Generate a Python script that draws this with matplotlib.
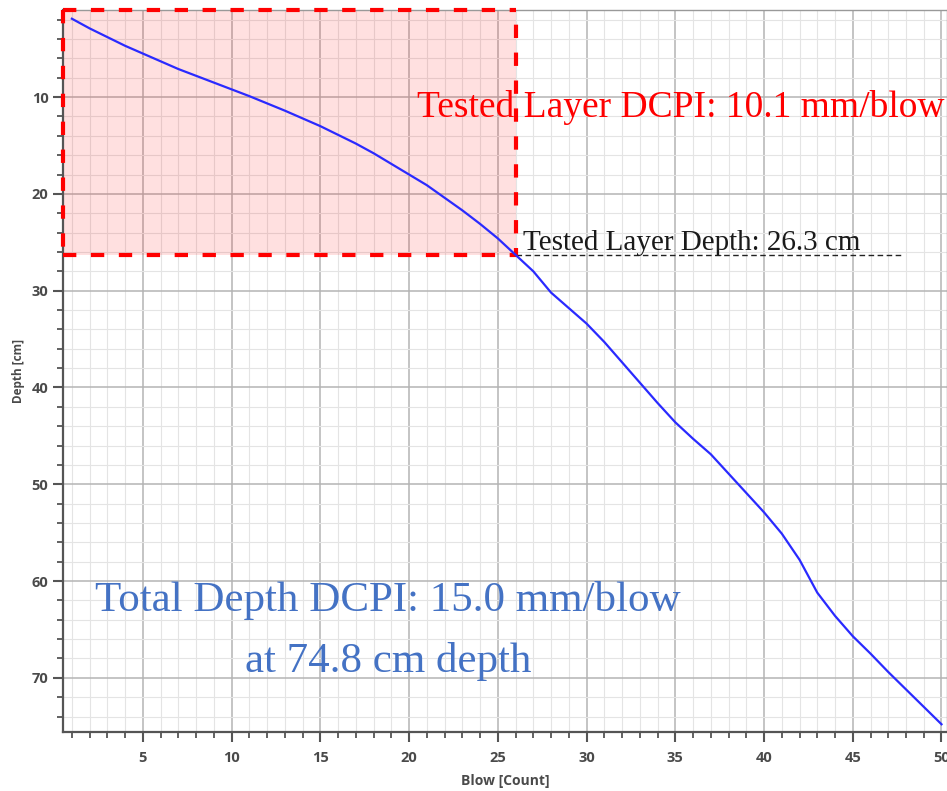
import matplotlib
matplotlib.use("Agg")
import matplotlib.pyplot as plt
from matplotlib.patches import Rectangle
from matplotlib.ticker import MultipleLocator

# ---- data ----
blows = [1, 2, 3, 4, 5, 6, 7, 8, 9, 10,
         11, 12, 13, 14, 15, 16, 17, 18, 19, 20,
         21, 22, 23, 24, 25, 26, 27, 28, 29, 30,
         31, 32, 33, 34, 35, 36, 37, 38, 39, 40,
         41, 42, 43, 44, 45, 46, 47, 48, 49, 50]
depths = [1.9, 2.9, 3.8, 4.7, 5.5, 6.3, 7.1, 7.8, 8.5, 9.2,
          9.9, 10.65, 11.4, 12.2, 13.0, 13.9, 14.8, 15.8, 16.9, 18.0,
          19.1, 20.4, 21.7, 23.1, 24.6, 26.3, 28.0, 30.2, 31.8, 33.4,
          35.3, 37.4, 39.5, 41.6, 43.6, 45.3, 46.9, 48.9, 50.9, 52.9,
          55.1, 57.8, 61.2, 63.6, 65.7, 67.5, 69.4, 71.2, 73.0, 74.8]

tested_blow = 26
tested_depth = 26.3
tested_dcpi = 10.1
total_dcpi = 15.0
total_depth = 74.8

x_ticks = [5, 10, 15, 20, 25, 30, 35, 40, 45, 50]
y_ticks = [10, 20, 30, 40, 50, 60, 70]

W, H = 947, 791
fig = plt.figure(figsize=(W / 100, H / 100), dpi=100)
ax = fig.add_axes([63 / W, 1 - 732 / H, (947 - 63) / W, (732 - 10) / H])

x_min, x_max = 0.5, 50.31
y_top, y_bot = 1.0, 75.6
ax.set_xlim(x_min, x_max)
ax.set_ylim(y_bot, y_top)

# grid
ax.xaxis.set_major_locator(MultipleLocator(5))
ax.xaxis.set_minor_locator(MultipleLocator(1))
ax.yaxis.set_major_locator(MultipleLocator(10))
ax.yaxis.set_minor_locator(MultipleLocator(2))
ax.set_xticks(x_ticks)
ax.set_yticks(y_ticks)
ax.grid(which="major", color="#b4b4b4", lw=1.1, zorder=0)
ax.grid(which="minor", color="#e4e4e4", lw=0.8, zorder=0)
ax.set_axisbelow(True)

# spines & ticks
for s in ["left", "bottom"]:
    ax.spines[s].set_color("#555555")
    ax.spines[s].set_linewidth(1.6)
for s in ["top", "right"]:
    ax.spines[s].set_color("#999999")
    ax.spines[s].set_linewidth(1.0)
ax.tick_params(which="major", length=7, width=1.5, color="#555555",
               labelcolor="#4a4a4a", labelsize=10.5)
ax.tick_params(which="minor", length=4.3, width=1.3, color="#555555")
ax.tick_params(axis="x", which="major", pad=6.5)
ax.tick_params(axis="y", which="major", pad=3.5)
for lab in ax.get_xticklabels() + ax.get_yticklabels():
    lab.set_fontfamily("Open Sans")
    lab.set_fontweight("bold")

ax.set_xlabel("Blow [Count]", fontsize=10, color="#4a4a4a", fontfamily="Open Sans",
              fontweight="bold", labelpad=7)
ax.set_ylabel("Depth [cm]", fontsize=8.5, color="#4a4a4a", fontfamily="Open Sans",
              fontweight="bold", labelpad=5)

# tested layer shaded box
rect_fill = Rectangle((x_min, y_top), tested_blow - x_min, tested_depth - y_top,
                      facecolor=(1, 0, 0, 0.12), edgecolor="none", zorder=1)
ax.add_patch(rect_fill)
ax.plot([x_min, tested_blow, tested_blow], [tested_depth, tested_depth, y_top],
        color="#ff0000", lw=3, dashes=(3.2, 3.5), zorder=4, clip_on=False)
ax.plot([x_min, tested_blow], [y_top, y_top], color="#ff0000", lw=3,
        dashes=(3.2, 3.5), zorder=4, clip_on=False)
ax.plot([x_min, x_min], [y_top, tested_depth], color="#ff0000", lw=3,
        dashes=(3.2, 3.5), zorder=4, clip_on=False)

# black dashed depth line
ax.plot([tested_blow, 47.8], [tested_depth, tested_depth], color="#222222",
        lw=1.0, dashes=(4, 2.5), zorder=3)

# curve
ax.plot(blows, depths, color="#2a2aff", lw=1.6, zorder=5)

serif = "Liberation Serif"
ax.text(26.42, 25.75, f"Tested Layer Depth: {tested_depth} cm", fontfamily=serif,
        fontsize=21, color="#1a1a1a", ha="left", va="baseline", zorder=6)
ax.text(20.45, 12.07, f"Tested Layer DCPI: {tested_dcpi} mm/blow", fontfamily=serif,
        fontsize=27, color="#ff0000", ha="left", va="baseline", zorder=6)
ax.text(18.8, 63.1, f"Total Depth DCPI: {total_dcpi} mm/blow", fontfamily=serif,
        fontsize=31, color="#4472c4", ha="center", va="baseline", zorder=6)
ax.text(18.8, 69.4, f"at {total_depth} cm depth", fontfamily=serif,
        fontsize=31, color="#4472c4", ha="center", va="baseline", zorder=6)

fig.savefig("out.png", dpi=100)
